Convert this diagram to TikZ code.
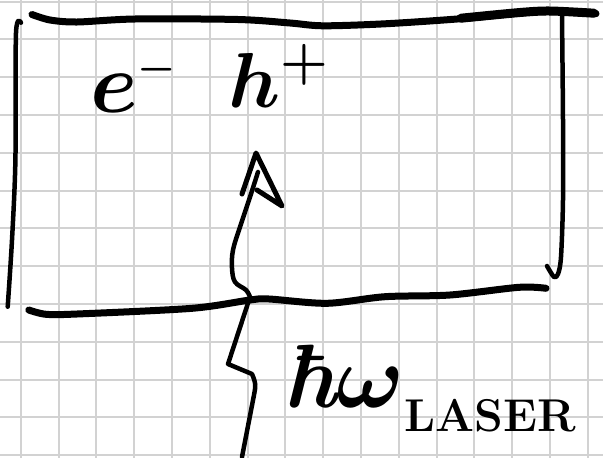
\RequirePackage{fix-cm}
\documentclass[tikz,border=0pt]{standalone}
\definecolor{gridgray}{RGB}{210,210,210}
\tikzset{
  gridline/.style={draw=gridgray, line width=2pt},
  ink/.style={draw=black, line width=4.5pt, line cap=round, line join=round},
  thickink/.style={ink, line width=7pt},
  txt/.style={anchor=base west, inner sep=0pt, text=black, font=\boldmath\bfseries},
}
\begin{document}
\begin{tikzpicture}[x=1pt,y=-1pt]
\fill[white] (0,0) rectangle (603,458);
\useasboundingbox (0,0) rectangle (603,458);
% grid paper
\foreach \gx in {20.8, 58.6, 96.4, 134.2, 172, 209.8, 247.6, 285.4, 323.2, 361, 398.8, 436.6, 474.4, 512.2, 550, 587.8}
  {\draw[gridline] (\gx,0) -- (\gx,458);}
\foreach \gy in {1.5, 39.3, 77.1, 114.9, 152.7, 190.5, 228.3, 266.1, 303.9, 341.7, 379.5, 417.3, 455.1}
  {\draw[gridline] (0,\gy) -- (603,\gy);}
% box: top edge
\draw[thickink] plot[smooth] coordinates {(32,14.5) (50,20) (77,22) (135,19) (238,19.5) (290,23) (323,25.8) (385,23.8) (461,18.7) (520,13) (550,11.5) (596,13.7)};
\draw[thickink, line width=9pt] plot[smooth] coordinates {(461,18.2) (520,12.5) (550,11) (594,13.2)};
% left edge
\draw[ink] plot[smooth] coordinates {(21,22.7) (16,33) (15.4,160) (12,240) (7.7,306.7)};
% right edge with hook
\draw[ink] plot[smooth, tension=0.5] coordinates {(562,15) (563,120) (563,200) (561,257) (558,274) (554,277) (547,266)};
% bottom edge
\draw[thickink] plot[smooth] coordinates {(28.8,310) (46,314.3) (77,314) (192,308.3) (250,300) (269,299) (327,303.3) (385,296.7) (450,295) (519,287.3) (546,288.3)};
% labels
\node[txt] (eminus) at (90,112) {\fontsize{86}{86}\selectfont$e^{\scriptscriptstyle -}$};
\node[txt] (hplus) at (228,107) {\fontsize{78}{78}\selectfont$h^{+}$};
\node[txt] (photon) at (283,407) {\fontsize{90}{90}\selectfont{\itshape\char"0127}$\omega$\raisebox{-24pt}{\fontsize{46}{46}\selectfont LASER}};
% photon: wavy line entering from below, arrow up to the hole
\coordinate (src) at (242,457);
\coordinate (tip) at (258,172);
\draw[ink] (src) -- (254,395) .. controls (256,384) .. (252,374) -- (228,364) -- (250,297)
  plot[smooth, tension=0.6] coordinates {(250,297) (246,290) (235,282) (232,268) (233,250) (240,227) (250,197) (258,172)};
\draw[ink, line width=5pt] (242,194) -- (256,153) -- (282,206) -- (257,190);
\end{tikzpicture}
\end{document}
